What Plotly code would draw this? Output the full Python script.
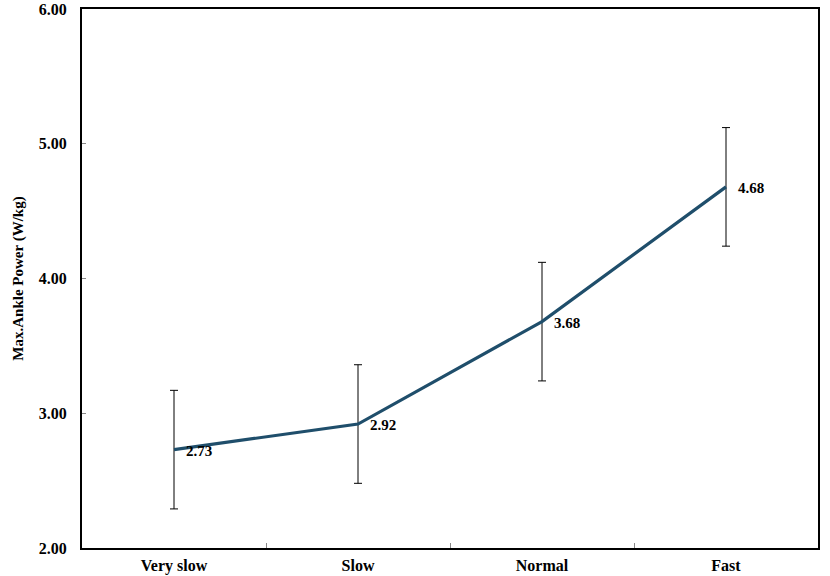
import plotly.graph_objects as go

categories = ["Very slow", "Slow", "Normal", "Fast"]
values = [2.73, 2.92, 3.68, 4.68]
errors = [0.44, 0.44, 0.44, 0.44]
labels = ["2.73", "2.92", "3.68", "4.68"]
y_ticks = [2, 3, 4, 5, 6]

xpos = list(range(len(categories)))
FONT = "Liberation Serif"

fig = go.Figure()
fig.add_trace(go.Scatter(
    x=xpos, y=values, mode="lines",
    line=dict(color="#1f4e6b", width=3.2),
    error_y=dict(type="data", array=errors, visible=True, color="black", thickness=1, width=4),
    showlegend=False, cliponaxis=False,
))

for xi, yi, lab in zip(xpos, values, labels):
    fig.add_annotation(
        x=xi, y=yi, text=lab, showarrow=False,
        xanchor="left", yanchor="middle", xshift=10, yshift=-1,
        font=dict(family=FONT, size=15, color="black", weight="bold"),
    )

fig.update_layout(
    width=830, height=576,
    margin=dict(l=82, r=12, t=9, b=28),
    paper_bgcolor="white", plot_bgcolor="white",
    font=dict(family=FONT, color="black"),
    xaxis=dict(
        range=[-0.5, 3.5], tickvals=xpos, ticktext=categories,
        showgrid=False, zeroline=False, ticks="", showline=True, mirror=True,
        linecolor="black", linewidth=2, automargin=False,
        tickfont=dict(family=FONT, size=16, weight="bold"),
        ticklabelstandoff=2,
        minor=dict(tickvals=[0.5, 1.5, 2.5], ticks="inside", ticklen=5, tickcolor="#888", tickwidth=1),
    ),
    yaxis=dict(
        range=[2, 6], tickvals=y_ticks, tickformat=".2f",
        showgrid=False, zeroline=False, ticks="inside", ticklen=4, tickcolor="#888", tickwidth=1,
        showline=True, mirror=True,
        linecolor="black", linewidth=2, automargin=False,
        tickfont=dict(family=FONT, size=16, weight="bold"),
        ticklabelstandoff=10,
        title=dict(text="Max.Ankle Power (W/kg)", font=dict(family=FONT, size=15, weight="bold"), standoff=12),
    ),
)

fig.write_html("out.html", config={"displayModeBar": False},
               post_script="document.body.style.margin='0';")
